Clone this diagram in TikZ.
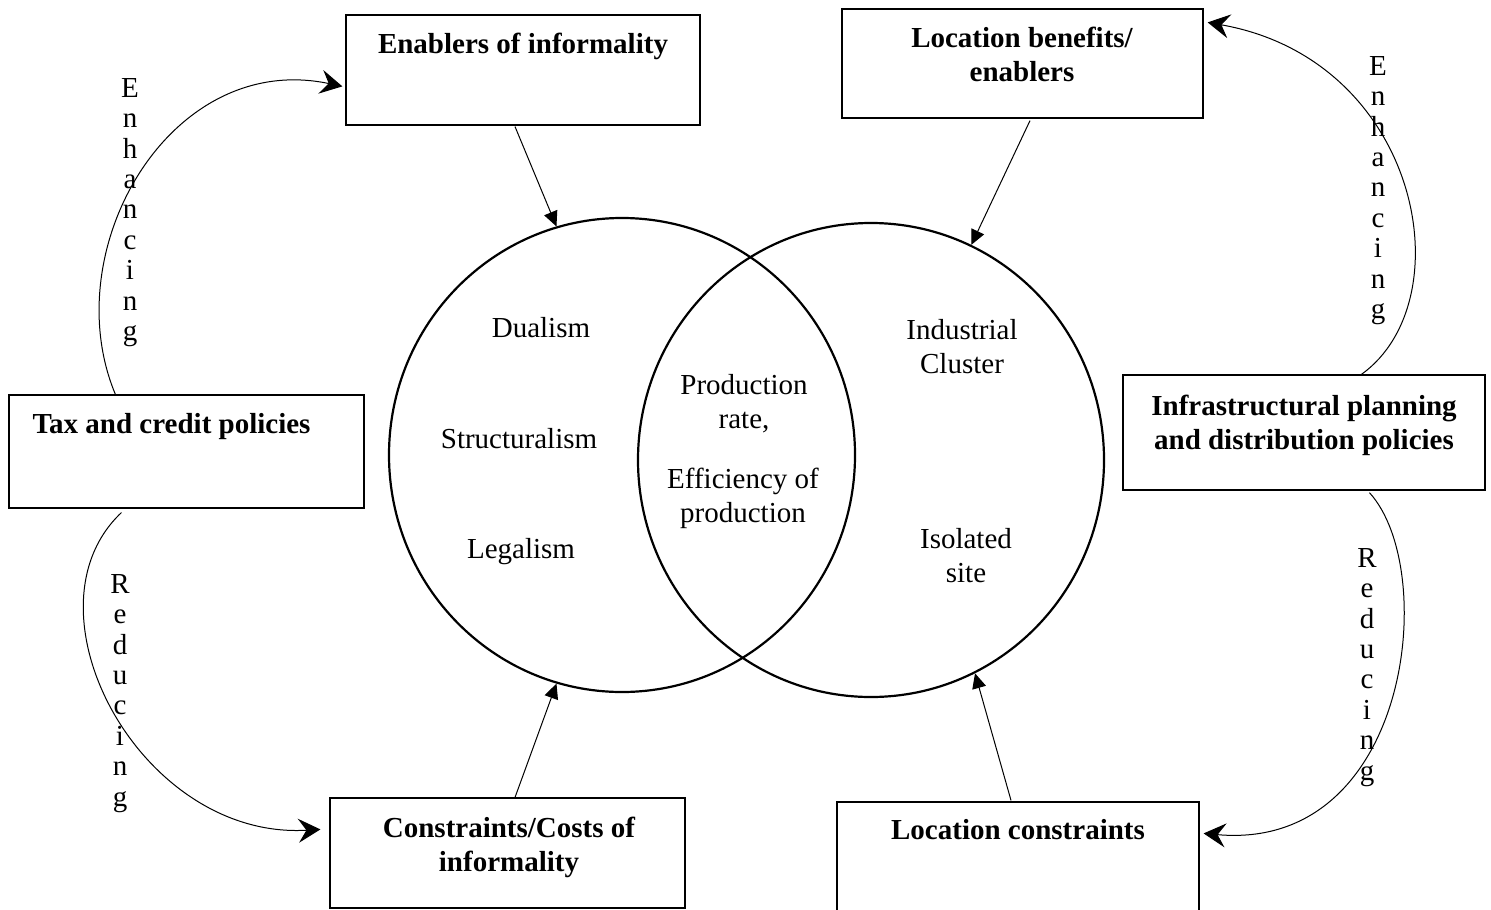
\documentclass[tikz,border=0pt]{standalone}
\usepackage{fontspec}
\setmainfont{Liberation Serif}
\usetikzlibrary{arrows.meta,calc,shapes.geometric}
\begin{document}
\begin{tikzpicture}[x=0.5pt,y=-0.5pt,
  box/.style={draw, line width=0.6pt, rectangle, inner sep=0pt},
  ring/.style={draw, ellipse, line width=1.1pt, inner sep=0pt, minimum width=233pt, minimum height=237pt},
  btxt/.style={font=\fontsize{14.5}{17}\selectfont\bfseries, align=center, inner sep=0pt, anchor=north},
  itxt/.style={font=\fontsize{14.5}{17}\selectfont, align=center, inner sep=0pt, anchor=north},
  vtxt/.style={font=\fontsize{14.5}{15.2}\selectfont, align=center, inner sep=0pt, anchor=north},
  straightarrow/.style={line width=0.5pt, -{Triangle[length=7.5pt,width=7pt]}},
  curvearrow/.style={line width=0.5pt, -{Stealth[length=11pt,width=12pt,inset=4pt]}}
]
\useasboundingbox (0,0) rectangle (1491,909);

% ellipses
\node[ring] (L) at (622,455) {};
\node[ring] (R) at (871,460) {};

% boxes
\node[box, minimum width=177pt, minimum height=55pt] (enab) at (523,70) {};
\node[box, minimum width=180.5pt, minimum height=54.5pt] (locb) at (1022.5,63.5) {};
\node[box, minimum width=177.5pt, minimum height=56.5pt] (tax) at (186.5,451.5) {};
\node[box, minimum width=181pt, minimum height=57.5pt] (infra) at (1304,432.5) {};
\node[box, minimum width=177.5pt, minimum height=55pt] (cons) at (507.5,853) {};
\node[box, minimum width=181pt, minimum height=55pt] (locc) at (1018,857) {};

% box texts
\node[btxt] (tenab) at (523,33) {Enablers of informality};
\node[btxt] (tlocb) at (1022,27) {Location benefits/\\enablers};
\node[btxt] (ttax) at (171.5,413) {Tax and credit policies};
\node[btxt] (tinfra) at (1304,395) {Infrastructural planning\\and distribution policies};
\node[btxt] (tcons) at (509,817) {Constraints/Costs of\\informality};
\node[btxt] (tlocc) at (1018,819) {Location constraints};

% ellipse texts
\node[itxt] (dual) at (541,317) {Dualism};
\node[itxt] (struc) at (519,428) {Structuralism};
\node[itxt] (legal) at (521,538) {Legalism};
\node[itxt] (prod) at (744,374) {Production\\rate,};
\node[itxt] (eff) at (743,468) {Efficiency of\\production};
\node[itxt] (indus) at (962,319) {Industrial\\Cluster};
\node[itxt] (iso) at (966,528) {Isolated\\site};

% vertical labels
\node[vtxt] (enhL) at (130,78) {E\\n\\h\\a\\n\\c\\i\\n\\g};
\node[vtxt] (enhR) at (1378,56) {E\\n\\h\\a\\n\\c\\i\\n\\g};
\node[vtxt] (redL) at (120,574) {R\\e\\d\\u\\c\\i\\n\\g};
\node[vtxt] (redR) at (1367,548) {R\\e\\d\\u\\c\\i\\n\\g};

% straight arrows
\draw[straightarrow] ($(enab.south)+(-8,1)$) -- (L.106);
\draw[straightarrow] ($(locb.south)+(7.5,2)$) -- (R.65);
\draw[straightarrow] ($(cons.north)+(7.5,0)$) -- (L.254.5);
\draw[straightarrow] ($(locc.north)+(-7,-1)$) -- (R.296.8);

% curved arrows
\draw[curvearrow] ($(tax.north west)+(107,0)$) .. controls (55,250) and (170,50) .. ($(enab.north west)+(-3,72)$);
\draw[curvearrow] ($(tax.south west)+(113,4)$) .. controls (18,610) and (140,840) .. ($(cons.north west)+(-9,32)$);
\draw[curvearrow] ($(infra.north west)+(239,0)$) .. controls (1465,300) and (1420,60) .. ($(locb.north east)+(4,14)$);
\draw[curvearrow] ($(infra.south west)+(247,2)$) .. controls (1440,570) and (1410,852) .. ($(locc.north east)+(4,32)$);
\end{tikzpicture}
\end{document}
